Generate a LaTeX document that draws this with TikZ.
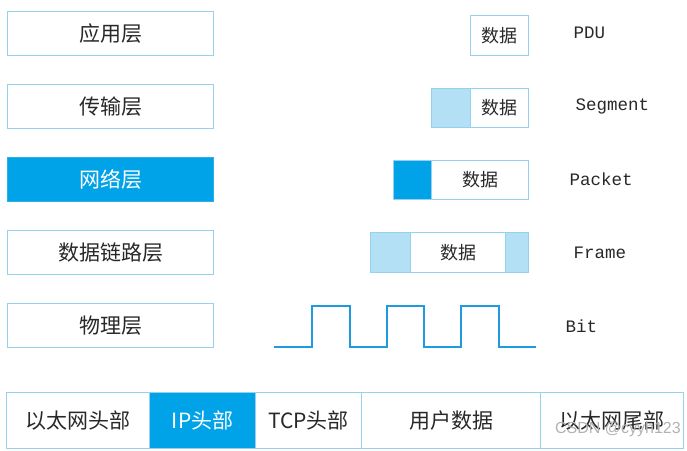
\documentclass[tikz,border=0pt]{standalone}
\usepackage{fontspec}
\setmainfont{Liberation Serif}
\newfontfamily\cjk{Noto Sans CJK SC}
\newfontfamily\lbl{Liberation Mono}
\newfontfamily\wm{Liberation Sans}
\definecolor{bord}{RGB}{150,210,238}
\definecolor{dark}{RGB}{0,162,232}
\definecolor{light}{RGB}{180,224,245}
\definecolor{wave}{RGB}{30,155,224}
\definecolor{txt}{RGB}{40,40,40}
\begin{document}
\begin{tikzpicture}[x=1pt,y=-1pt,
  layer/.style={draw=bord,line width=1.2pt,minimum width=206pt,minimum height=44pt,inner sep=0pt,anchor=north west,font=\cjk\fontsize{21}{21}\selectfont,text=txt},
  cell/.style={draw=bord,line width=1.2pt,inner sep=0pt,anchor=north west,font=\cjk\fontsize{18}{18}\selectfont,text=txt},
  pdu/.style={anchor=west,font=\lbl\fontsize{17.5}{17.5}\selectfont,text=txt},
  bar/.style={draw=bord,line width=1.2pt,inner sep=0pt,anchor=north west,minimum height=56pt,font=\cjk\fontsize{21}{21}\selectfont,text=txt}]
\useasboundingbox (0,0) rectangle (687,450);
% left layers
\node[layer] (app) at (7,11) {应用层};
\node[layer] (trans) at (7,84) {传输层};
\node[layer,fill=dark,draw=dark!70!bord,text=white] (net) at (7,157) {网络层};
\node[layer] (link) at (7,230) {数据链路层};
\node[layer] (phys) at (7,303) {物理层};
% PDU
\node[cell,minimum width=58pt,minimum height=40pt] (d1) at (470,15) {数据};
\node[cell,fill=light,minimum width=39pt,minimum height=39pt] (h2) at (431,88) {};
\node[cell,minimum width=58pt,minimum height=39pt] (d2) at (470,88) {数据};
\node[cell,fill=dark,minimum width=38pt,minimum height=39pt] (h3) at (393,160) {};
\node[cell,minimum width=97pt,minimum height=39pt] (d3) at (431,160) {数据};
\node[cell,fill=light,minimum width=40pt,minimum height=40pt] (h4) at (370,232) {};
\node[cell,minimum width=95pt,minimum height=40pt] (d4) at (410,232) {数据};
\node[cell,fill=light,minimum width=23pt,minimum height=40pt] (t4) at (505,232) {};
% wave
\coordinate (w0) at (274,347);
\coordinate (w1) at (536,347);
\draw[wave,line width=2pt,line join=miter] (w0) -- (312,347) -- (312,306) -- (350,306) -- (350,347) -- (387,347) -- (387,306) -- (424,306) -- (424,347) -- (461,347) -- (461,306) -- (499,306) -- (499,347) -- (w1);
% labels
\node[pdu] (lpdu) at (570,33) {PDU};
\node[pdu] (lseg) at (572,106) {Segment};
\node[pdu] (lpkt) at (566,179) {Packet};
\node[pdu] (lfrm) at (570,253) {Frame};
\node[pdu] (lbit) at (562,326) {Bit};
% bottom bar
\node[bar,minimum width=143pt] (eh) at (6,392) {以太网头部};
\node[bar,minimum width=106pt,fill=dark,text=white] (iph) at (149,392) {IP头部};
\node[bar,minimum width=106pt] (tcph) at (255,392) {TCP头部};
\node[bar,minimum width=179pt] (ud) at (361,392) {用户数据};
\node[bar,minimum width=143pt] (et) at (540,392) {以太网尾部};
% watermark
\node[anchor=east,font=\wm\fontsize{16}{16}\selectfont,text=gray!60,inner sep=0pt] (wmk) at (681,429) {CSDN @cyyh123};
\end{tikzpicture}
\end{document}
